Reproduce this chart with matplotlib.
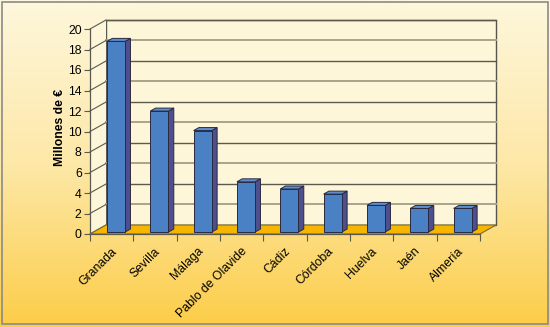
import numpy as np
import matplotlib.pyplot as plt
from matplotlib.patches import Polygon
from matplotlib.colors import LinearSegmentedColormap

plt.rcParams['font.family'] = ['Liberation Sans', 'DejaVu Sans']

# datos
universidades = ['Granada', 'Sevilla', 'Málaga', 'Pablo de Olavide', 'Cádiz',
                 'Córdoba', 'Huelva', 'Jaén', 'Almería']
millones = [18.6, 11.8, 9.9, 4.9, 4.2, 3.7, 2.6, 2.3, 2.3]
yticks = list(range(0, 21, 2))

# profundidad del efecto 3D (en unidades de datos)
DX, DY = 0.37, 0.88
n = len(universidades)
x0, x1 = -0.5, n - 0.5


def d(x, y, t):
    return (x + t * DX, y + t * DY)


fig = plt.figure(figsize=(5.5, 3.27), dpi=100)

# fondo degradado
bg = fig.add_axes([0, 0, 1, 1], zorder=0)
cmap = LinearSegmentedColormap.from_list('fondo', ['#fef7dc', '#fde8a8', '#fccd48'])
grad = np.linspace(0, 1, 256).reshape(-1, 1)
bg.imshow(grad, aspect='auto', cmap=cmap, extent=[0, 1, 0, 1], origin='upper')
bg.add_patch(plt.Rectangle((0.004, 0.008), 0.992, 0.985, fill=False,
                           edgecolor='#8a8a8a', lw=1.2, transform=bg.transAxes))
bg.axis('off')

ax = fig.add_axes([90 / 550, 93 / 327, 390 / 550, 205 / 327], zorder=1)
ax.set_xlim(x0, x1)
ax.set_ylim(0, 20)
ax.patch.set_alpha(0)
for s in ax.spines.values():
    s.set_visible(False)

# pared del fondo y pared izquierda
ax.add_patch(Polygon([d(x0, 0, 1), d(x1, 0, 1), d(x1, 20, 1), d(x0, 20, 1)],
                     closed=True, facecolor='#fdf6d8', edgecolor='#555550', lw=1,
                     clip_on=False, zorder=1))
ax.add_patch(Polygon([(x0, 0), d(x0, 0, 1), d(x0, 20, 1), (x0, 20)],
                     closed=True, facecolor='#fdf6d8', edgecolor='none',
                     clip_on=False, zorder=1))
# suelo
ax.add_patch(Polygon([(x0, 0), (x1, 0), d(x1, 0, 1), d(x0, 0, 1)],
                     closed=True, facecolor='#f6b600', edgecolor='#7a6a30', lw=0.8,
                     clip_on=False, zorder=2))

# lineas de rejilla
for i, v in enumerate(yticks):
    c = '#5c5a50' if i % 2 == 0 else '#a8a38a'
    lw = 1.0 if i % 2 == 0 else 1.4
    if v > 0:
        ax.plot([d(x0, v, 1)[0], d(x1, v, 1)[0]], [d(x0, v, 1)[1]] * 2,
                color=c, lw=lw, clip_on=False, zorder=1.5)
    ax.plot([x0, d(x0, v, 1)[0]], [v, d(x0, v, 1)[1]], color='#5c5a50', lw=0.8,
            clip_on=False, zorder=1.5)
ax.plot([x0, x0], [0, 20], color='#5c5a50', lw=0.9, clip_on=False, zorder=1.6)
ax.plot([x0, x1], [0, 0], color='#5c5a50', lw=0.9, clip_on=False, zorder=2.5)

# barras
w = 0.42
t0, t1 = 0.22, 0.55
for i, v in enumerate(millones):
    xl = i - w / 2 + 0.02
    xr = xl + w
    front = [d(xl, 0, t0), d(xr, 0, t0), d(xr, v, t0), d(xl, v, t0)]
    side = [d(xr, 0, t0), d(xr, 0, t1), d(xr, v, t1), d(xr, v, t0)]
    top = [d(xl, v, t0), d(xr, v, t0), d(xr, v, t1), d(xl, v, t1)]
    for pts, fc in [(side, '#4f4f8e'), (top, '#5b8fd0'), (front, '#4a80c4')]:
        ax.add_patch(Polygon(pts, closed=True, facecolor=fc, edgecolor='#2a2a40',
                             lw=0.7, clip_on=False, zorder=3))

# ejes
ax.set_yticks(yticks)
ax.set_yticklabels([str(v) for v in yticks], fontsize=8.8)
ax.set_xticks(np.arange(x0, x1 + 0.01, 1))
ax.set_xticklabels([])
ax.tick_params(axis='y', length=4, width=0.8, color='#5c5a50', pad=2)
ax.tick_params(axis='x', length=5, width=0.8, color='#5c5a50')
for i, name in enumerate(universidades):
    ax.text(i - 0.02, -1.1, name, rotation=45, ha='right', va='top',
            rotation_mode='anchor', fontsize=8.8)

ax.set_ylabel('Millones de €', fontsize=8.8, fontweight='bold')
ax.yaxis.set_label_coords(-0.062, 0.52)

fig.savefig('out.png', dpi=100)
